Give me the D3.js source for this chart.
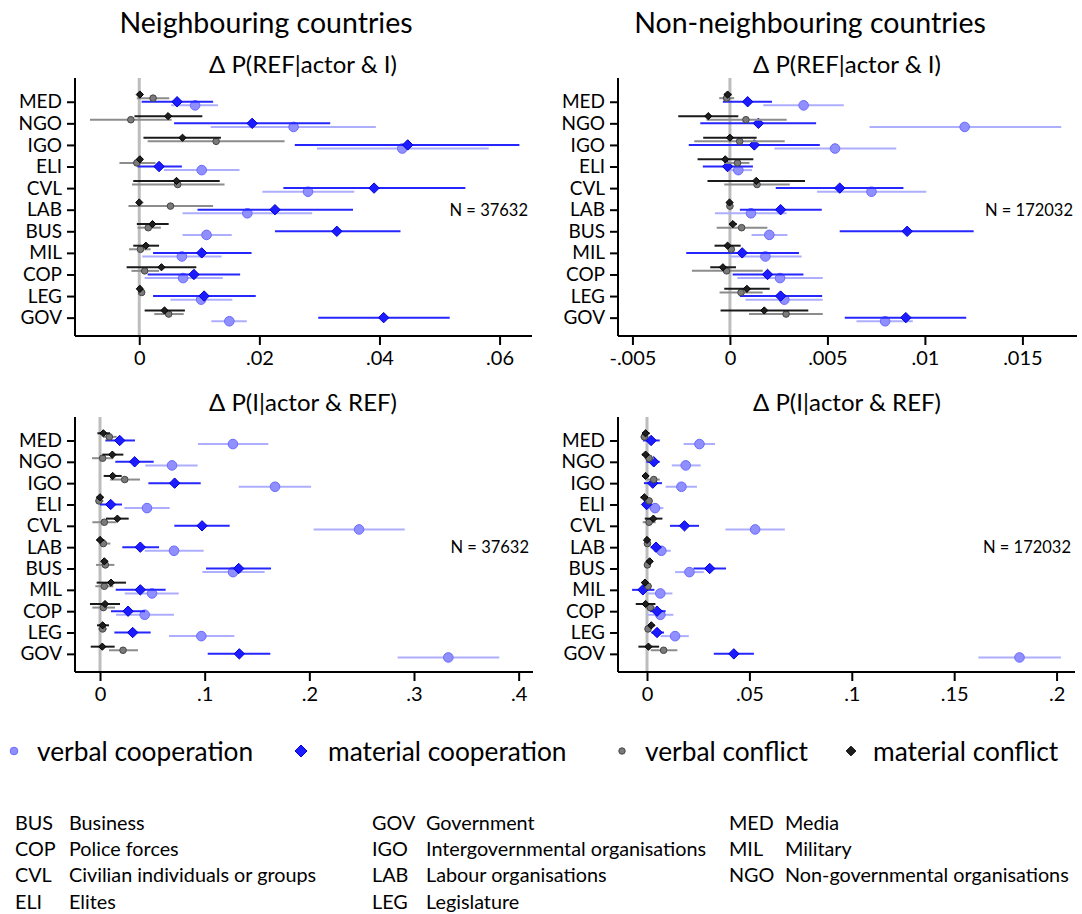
<!DOCTYPE html>
<html>
<head>
<meta charset="utf-8">
<script src="https://cdn.jsdelivr.net/npm/d3@7"></script>
<style>
  body { margin: 0; background: #fff; }
  svg { display: block; font-family: Lato, "Noto Sans", sans-serif; }
</style>
</head>
<body>
<div id="chart"></div>
<script>
// Actor categories (top to bottom)
const categories = ["MED", "NGO", "IGO", "ELI", "CVL", "LAB", "BUS", "MIL", "COP", "LEG", "GOV"];
const seriesNames = ["verbal cooperation", "material cooperation", "verbal conflict", "material conflict"];

// Each row: [estimate, lower CI, upper CI], in category order
// Neighbouring countries, dP(REF | actor & I)
const nbRefVerbCoop = [[0.0093,0.0053,0.0131],[0.0257,0.0119,0.0394],[0.0438,0.0296,0.0582],[0.0104,0.0041,0.0167],[0.0281,0.0205,0.0358],[0.0180,0.0072,0.0288],[0.0112,0.0072,0.0154],[0.0071,0.0005,0.0137],[0.0073,0.0009,0.0139],[0.0103,0.0052,0.0155],[0.0150,0.0120,0.0179]];
const nbRefMatCoop  = [[0.0063,0.0004,0.0123],[0.0188,0.0058,0.0318],[0.0447,0.0259,0.0633],[0.0033,-0.0003,0.0071],[0.0391,0.0240,0.0543],[0.0226,0.0097,0.0356],[0.0329,0.0226,0.0435],[0.0104,0.0023,0.0187],[0.0091,0.0014,0.0168],[0.0108,0.0023,0.0194],[0.0407,0.0298,0.0517]];
const nbRefVerbConf = [[0.0023,-0.0004,0.0050],[-0.0014,-0.0082,0.0054],[0.0128,0.0014,0.0242],[-0.0004,-0.0033,0.0027],[0.0064,-0.0012,0.0142],[0.0052,-0.0018,0.0123],[0.0015,-0.0003,0.0036],[0.0002,-0.0017,0.0019],[0.0009,-0.0013,0.0033],[0.0004,0.0000,0.0009],[0.0049,0.0025,0.0074]];
const nbRefMatConf  = [[0.0001,-0.0004,0.0005],[0.0048,-0.0008,0.0105],[0.0072,0.0007,0.0136],[0.0001,-0.0002,0.0003],[0.0062,-0.0010,0.0134],[0.0000,-0.0002,0.0002],[0.0022,-0.0004,0.0049],[0.0011,-0.0010,0.0033],[0.0037,-0.0021,0.0095],[0.0001,-0.0002,0.0004],[0.0042,0.0009,0.0076]];

// Non-neighbouring countries, dP(REF | actor & I)
const nnRefVerbCoop = [[0.00378,0.00171,0.00584],[0.01204,0.00716,0.01699],[0.00539,0.00228,0.00853],[0.00043,-0.00022,0.00113],[0.00726,0.00447,0.01007],[0.00108,-0.00077,0.00291],[0.00202,0.00111,0.00295],[0.00182,-0.00005,0.00368],[0.00257,0.00038,0.00476],[0.00279,0.00080,0.00476],[0.00796,0.00649,0.00938]];
const nnRefMatCoop  = [[0.00091,-0.00036,0.00216],[0.00146,-0.00152,0.00442],[0.00125,-0.00211,0.00461],[-0.00012,-0.00139,0.00118],[0.00563,0.00235,0.00890],[0.00260,0.00051,0.00471],[0.00909,0.00563,0.01250],[0.00063,-0.00224,0.00354],[0.00193,0.00014,0.00377],[0.00260,0.00051,0.00473],[0.00902,0.00589,0.01212]];
const nnRefVerbConf = [[-0.00017,-0.00055,0.00022],[0.00082,-0.00120,0.00291],[0.00050,-0.00183,0.00281],[0.00039,-0.00030,0.00100],[0.00139,-0.00029,0.00307],[0.00000,-0.00010,0.00010],[0.00060,-0.00068,0.00192],[0.00007,-0.00010,0.00020],[-0.00017,-0.00195,0.00168],[0.00057,-0.00053,0.00168],[0.00288,0.00098,0.00476]];
const nnRefMatConf  = [[-0.00012,-0.00030,0.00008],[-0.00111,-0.00265,0.00043],[0.00000,-0.00137,0.00137],[-0.00024,-0.00166,0.00120],[0.00135,-0.00115,0.00385],[-0.00002,-0.00010,0.00006],[0.00015,-0.00005,0.00035],[-0.00012,-0.00079,0.00055],[-0.00036,-0.00101,0.00031],[0.00087,-0.00029,0.00204],[0.00176,-0.00048,0.00402]];

// Neighbouring countries, dP(I | actor & REF)
const nbIVerbCoop = [[0.1270,0.0936,0.1608],[0.0688,0.0433,0.0933],[0.1672,0.1325,0.2016],[0.0449,0.0232,0.0666],[0.2475,0.2041,0.2911],[0.0707,0.0427,0.0990],[0.1271,0.0978,0.1573],[0.0497,0.0236,0.0752],[0.0427,0.0153,0.0707],[0.0968,0.0659,0.1283],[0.3328,0.2844,0.3815]];
const nbIMatCoop  = [[0.0188,0.0051,0.0334],[0.0331,0.0146,0.0513],[0.0713,0.0462,0.0962],[0.0102,0.0000,0.0210],[0.0975,0.0710,0.1239],[0.0385,0.0213,0.0564],[0.1325,0.1013,0.1634],[0.0385,0.0150,0.0627],[0.0268,0.0105,0.0430],[0.0312,0.0137,0.0484],[0.1331,0.1029,0.1627]];
const nbIVerbConf = [[0.0089,0.0032,0.0160],[0.0025,-0.0076,0.0127],[0.0236,0.0096,0.0382],[-0.0010,-0.0038,0.0032],[0.0041,-0.0073,0.0159],[0.0032,-0.0010,0.0099],[0.0051,-0.0038,0.0137],[0.0041,-0.0045,0.0127],[0.0032,-0.0073,0.0143],[0.0025,-0.0016,0.0064],[0.0220,0.0086,0.0363]];
const nbIMatConf  = [[0.0032,-0.0025,0.0096],[0.0118,0.0022,0.0223],[0.0121,0.0035,0.0207],[0.0000,-0.0032,0.0032],[0.0166,0.0057,0.0274],[0.0000,-0.0032,0.0041],[0.0041,0.0013,0.0073],[0.0105,-0.0032,0.0248],[0.0048,-0.0096,0.0191],[0.0025,-0.0029,0.0086],[0.0022,-0.0089,0.0140]];

// Non-neighbouring countries, dP(I | actor & REF)
const nnIVerbCoop = [[0.0256,0.0179,0.0332],[0.0189,0.0121,0.0262],[0.0168,0.0091,0.0244],[0.0039,0.0005,0.0080],[0.0528,0.0383,0.0673],[0.0070,0.0034,0.0116],[0.0207,0.0137,0.0277],[0.0065,0.0005,0.0124],[0.0065,0.0000,0.0129],[0.0137,0.0067,0.0204],[0.1819,0.1618,0.2021]];
const nnIMatCoop  = [[0.0020,-0.0020,0.0062],[0.0033,-0.0003,0.0062],[0.0028,-0.0015,0.0073],[-0.0002,-0.0023,0.0021],[0.0183,0.0112,0.0254],[0.0044,0.0018,0.0070],[0.0306,0.0227,0.0386],[-0.0020,-0.0073,0.0036],[0.0049,0.0013,0.0091],[0.0049,0.0021,0.0083],[0.0424,0.0326,0.0522]];
const nnIVerbConf = [[-0.0013,-0.0031,0.0007],[0.0010,-0.0011,0.0033],[0.0033,0.0000,0.0062],[0.0010,-0.0007,0.0028],[0.0010,-0.0021,0.0042],[0.0002,-0.0008,0.0013],[0.0002,-0.0015,0.0018],[0.0005,-0.0011,0.0023],[0.0016,-0.0007,0.0041],[0.0005,-0.0010,0.0020],[0.0081,0.0018,0.0148]];
const nnIMatConf  = [[-0.0007,-0.0023,0.0013],[-0.0007,-0.0025,0.0010],[-0.0007,-0.0020,0.0007],[-0.0013,-0.0031,0.0005],[0.0031,-0.0011,0.0075],[0.0000,-0.0010,0.0010],[0.0013,-0.0003,0.0029],[-0.0010,-0.0026,0.0007],[-0.0007,-0.0055,0.0041],[0.0021,0.0005,0.0038],[0.0007,-0.0042,0.0059]];

// x-axis ticks and labels per panel
const nbRefTicks = [0, 0.02, 0.04, 0.06];
const nbRefTickLabels = ["0", ".02", ".04", ".06"];
const nnRefTicks = [-0.005, 0, 0.005, 0.01, 0.015];
const nnRefTickLabels = ["-.005", "0", ".005", ".01", ".015"];
const nbITicks = [0, 0.1, 0.2, 0.3, 0.4];
const nbITickLabels = ["0", ".1", ".2", ".3", ".4"];
const nnITicks = [0, 0.05, 0.1, 0.15, 0.2];
const nnITickLabels = ["0", ".05", ".1", ".15", ".2"];

const sampleSizes = [37632, 172032];

// Abbreviation key, column by column
const abbrCodes = [["BUS", "COP", "CVL", "ELI"], ["GOV", "IGO", "LAB", "LEG"], ["MED", "MIL", "NGO"]];
const abbrNames = [["Business", "Police forces", "Civilian individuals or groups", "Elites"],
                   ["Government", "Intergovernmental organisations", "Labour organisations", "Legislature"],
                   ["Media", "Military", "Non-governmental organisations"]];

// ---- styles ----
const styles = [
    { shape: "circle",  r: 4.8, fill: "#8f8fff", stroke: "#6a6aff", ci: "#aeaeff", dy: 3.6 },
    { shape: "diamond", r: 5.2, fill: "#1c1cff", stroke: "#0000d8", ci: "#2626ff", dy: 0 },
    { shape: "circle",  r: 3.3, fill: "#7a7a7a", stroke: "#454545", ci: "#8c8c8c", dy: -3.6 },
    { shape: "diamond", r: 3.6, fill: "#1e1e1e", stroke: "#000000", ci: "#1a1a1a", dy: -7.2 }
];

const width = 1082, height = 914;
const svg = d3.select("#chart").append("svg")
    .attr("width", width)
    .attr("height", height);

const diamondPath = r => `M0,${-r}L${r},0L0,${r}L${-r},0Z`;

function drawMarker(g, st, x, y, r) {
    if (st.shape === "circle") {
        g.append("circle").attr("cx", x).attr("cy", y).attr("r", r)
            .attr("fill", st.fill).attr("stroke", st.stroke).attr("stroke-width", 1);
    } else {
        g.append("path").attr("d", diamondPath(r))
            .attr("transform", `translate(${x},${y})`)
            .attr("fill", st.fill).attr("stroke", st.stroke).attr("stroke-width", 1);
    }
}

const panels = [
    { left: 75,  right: 532,  top: 78,  bottom: 336, domain: [-0.0107, 0.0654],
      ticks: nbRefTicks, labels: nbRefTickLabels, n: sampleSizes[0],
      series: [nbRefVerbCoop, nbRefMatCoop, nbRefVerbConf, nbRefMatConf] },
    { left: 618, right: 1077, top: 78,  bottom: 336, domain: [-0.00574, 0.0178],
      ticks: nnRefTicks, labels: nnRefTickLabels, n: sampleSizes[1],
      series: [nnRefVerbCoop, nnRefMatCoop, nnRefVerbConf, nnRefMatConf] },
    { left: 75,  right: 533,  top: 417, bottom: 672, domain: [-0.0239, 0.4137],
      ticks: nbITicks, labels: nbITickLabels, n: sampleSizes[0],
      series: [nbIVerbCoop, nbIMatCoop, nbIVerbConf, nbIMatConf] },
    { left: 618, right: 1075, top: 417, bottom: 672, domain: [-0.01417, 0.209],
      ticks: nnITicks, labels: nnITickLabels, n: sampleSizes[1],
      series: [nnIVerbCoop, nnIMatCoop, nnIVerbConf, nnIMatConf] }
];

panels.forEach(p => {
    const g = svg.append("g");
    const x = d3.scaleLinear().domain(p.domain).range([p.left, p.right]);
    const y = d3.scaleLinear().domain([-1.1, 10.85]).range([p.top, p.bottom]);

    // zero reference line
    g.append("line")
        .attr("x1", x(0)).attr("x2", x(0))
        .attr("y1", p.top).attr("y2", p.bottom)
        .attr("stroke", "#bdbdbd").attr("stroke-width", 3);

    // x axis
    const xAxis = d3.axisBottom(x)
        .tickValues(p.ticks)
        .tickFormat((d, i) => p.labels[i])
        .tickSize(9)
        .tickPadding(6)
        .tickSizeOuter(0);
    const xg = g.append("g").attr("transform", `translate(0,${p.bottom})`).call(xAxis);
    xg.select(".domain").attr("stroke", "#000").attr("stroke-width", 2)
        .attr("d", `M${p.left},0H${p.right}`);
    xg.selectAll(".tick line").attr("stroke", "#000").attr("stroke-width", 2);
    xg.selectAll(".tick text").attr("font-size", 20).attr("font-family", "Lato, sans-serif").attr("fill", "#000");

    // y axis with category labels
    const yAxis = d3.axisLeft(y)
        .tickValues(d3.range(categories.length))
        .tickFormat(i => categories[i])
        .tickSize(8)
        .tickPadding(5)
        .tickSizeOuter(0);
    const yg = g.append("g").attr("transform", `translate(${p.left},0)`).call(yAxis);
    yg.select(".domain").attr("stroke", "#000").attr("stroke-width", 2)
        .attr("d", `M0,${p.top}V${p.bottom}`);
    yg.selectAll(".tick line").attr("stroke", "#000").attr("stroke-width", 2);
    yg.selectAll(".tick text").attr("font-size", 19).attr("font-family", "Lato, sans-serif").attr("fill", "#000");

    // confidence intervals then markers, per series
    p.series.forEach((data, s) => {
        const st = styles[s];
        const sg = g.append("g");
        sg.selectAll("line.ci").data(data).join("line")
            .attr("class", "ci")
            .attr("x1", d => x(d[1])).attr("x2", d => x(d[2]))
            .attr("y1", (d, i) => y(i) + st.dy).attr("y2", (d, i) => y(i) + st.dy)
            .attr("stroke", st.ci).attr("stroke-width", 2);
        data.forEach((d, i) => drawMarker(sg, st, x(d[0]), y(i) + st.dy, st.r));
    });

    // sample size note
    g.append("text")
        .attr("x", p.right - 4)
        .attr("y", y(5))
        .attr("text-anchor", "end")
        .attr("dominant-baseline", "central")
        .attr("font-size", 16.5)
        .text(`N = ${p.n}`);
});

// Titles
const titleText = [
    { t: "Neighbouring countries", x: 266, y: 22, s: 28.5 },
    { t: "Non-neighbouring countries", x: 810, y: 22, s: 28.5 },
    { t: "\u0394 P(REF|actor & I)", x: 303, y: 63, s: 24 },
    { t: "\u0394 P(REF|actor & I)", x: 847, y: 63, s: 24 },
    { t: "\u0394 P(I|actor & REF)", x: 303, y: 401, s: 24 },
    { t: "\u0394 P(I|actor & REF)", x: 847, y: 401, s: 24 }
];
svg.selectAll("text.title").data(titleText).join("text")
    .attr("class", "title")
    .attr("x", d => d.x).attr("y", d => d.y)
    .attr("text-anchor", "middle")
    .attr("dominant-baseline", "central")
    .attr("font-size", d => d.s)
    .text(d => d.t);

// Legend
const legendX = [14, 301, 622, 851];
const legendTextX = [37, 328, 645, 873];
const legendStyles = [
    Object.assign({}, styles[0], { r: 3.8 }),
    Object.assign({}, styles[1], { r: 6 }),
    Object.assign({}, styles[2], { r: 3.2 }),
    Object.assign({}, styles[3], { r: 4.8 })
];
const lg = svg.append("g");
seriesNames.forEach((name, i) => {
    drawMarker(lg, legendStyles[i], legendX[i], 751, legendStyles[i].r);
    lg.append("text")
        .attr("x", legendTextX[i]).attr("y", 751)
        .attr("dominant-baseline", "central")
        .attr("font-size", 26.3)
        .text(name);
});

// Abbreviation key
const keyCodeX = [15, 372, 729];
const keyNameX = [69, 426, 785];
const keyRowY = [822, 848, 874, 901];
const kg = svg.append("g").attr("font-size", 19.8);
abbrCodes.forEach((col, c) => {
    col.forEach((code, r) => {
        kg.append("text").attr("x", keyCodeX[c]).attr("y", keyRowY[r])
            .attr("dominant-baseline", "central").text(code);
        kg.append("text").attr("x", keyNameX[c]).attr("y", keyRowY[r])
            .attr("dominant-baseline", "central").text(abbrNames[c][r]);
    });
});
</script>
</body>
</html>
